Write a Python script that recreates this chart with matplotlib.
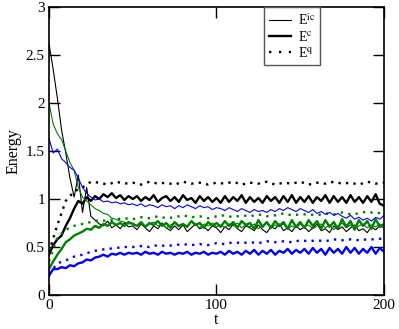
import numpy as np
import matplotlib
matplotlib.use('Agg')
import matplotlib.pyplot as plt

plt.rcParams['font.family'] = 'Liberation Serif'
plt.rcParams['mathtext.fontset'] = 'stix'

# time grids
t = np.arange(0, 200.1, 2.5)   # solid curves
tq = np.arange(0, 200.1, 5)    # dotted curves

# black set
bk_ic = [2.62, 2.35, 2.05, 1.72, 1.48, 1.22, 1.02, 1.25, 0.86, 1.12, 0.82, 0.78, 0.74, 0.72, 0.77, 0.70, 0.73, 0.69, 0.75, 0.71, 0.72,
         0.68, 0.74, 0.70, 0.66, 0.72, 0.69, 0.75, 0.70, 0.67, 0.72, 0.68, 0.73, 0.66, 0.70, 0.74, 0.69, 0.71, 0.67, 0.72, 0.70,
         0.65, 0.71, 0.68, 0.74, 0.69, 0.66, 0.72, 0.70, 0.67, 0.73, 0.68, 0.65, 0.71, 0.69, 0.74, 0.67, 0.70, 0.66, 0.72, 0.68,
         0.71, 0.66, 0.70, 0.74, 0.67, 0.69, 0.65, 0.72, 0.68, 0.71, 0.66, 0.70, 0.73, 0.67, 0.69, 0.65, 0.71, 0.68, 0.72, 0.70]
bk_c = [0.42, 0.52, 0.58, 0.62, 0.72, 0.80, 0.90, 0.98, 0.95, 1.02, 0.98, 1.03, 1.00, 1.05, 1.02, 1.06, 1.01, 1.04, 0.99, 1.03, 1.00,
        1.03, 0.98, 1.02, 0.99, 1.04, 0.97, 1.01, 1.03, 0.98, 1.02, 0.97, 1.04, 0.99, 1.01, 0.96, 1.03, 0.98, 1.02, 0.97, 1.01,
        0.96, 1.03, 0.97, 1.02, 0.98, 1.04, 0.96, 1.02, 0.97, 1.01, 0.96, 1.03, 0.98, 1.02, 0.96, 1.03, 0.97, 1.04, 0.96, 1.02,
        0.97, 1.03, 0.96, 1.02, 0.98, 1.04, 0.96, 1.03, 0.97, 1.02, 0.96, 1.04, 0.97, 1.02, 0.96, 1.03, 0.97, 1.05, 0.95, 0.93]
bk_q = [0.45, 0.73, 0.98, 1.08, 1.12, 1.18, 1.17, 1.15, 1.18, 1.16, 1.17,
        1.15, 1.18, 1.16, 1.17, 1.15, 1.18, 1.16, 1.17, 1.15, 1.17,
        1.16, 1.18, 1.15, 1.17, 1.16, 1.18, 1.15, 1.17, 1.16, 1.18,
        1.15, 1.17, 1.16, 1.18, 1.16, 1.17, 1.15, 1.18, 1.16, 1.17]

# green set
gr_ic = [2.00, 1.78, 1.68, 1.62, 1.50, 1.38, 1.30, 1.12, 1.02, 0.98, 0.94, 0.90, 0.88, 0.85, 0.84, 0.80, 0.79, 0.77, 0.76, 0.74, 0.75,
         0.72, 0.75, 0.71, 0.74, 0.76, 0.72, 0.74, 0.70, 0.73, 0.75, 0.71, 0.74, 0.72, 0.76, 0.73, 0.70, 0.74, 0.72, 0.75, 0.71,
         0.73, 0.70, 0.74, 0.72, 0.75, 0.70, 0.73, 0.71, 0.74, 0.69, 0.72, 0.75, 0.70, 0.73, 0.71, 0.74, 0.69, 0.72, 0.70, 0.74,
         0.71, 0.73, 0.69, 0.72, 0.74, 0.70, 0.73, 0.68, 0.72, 0.75, 0.70, 0.73, 0.69, 0.72, 0.74, 0.70, 0.73, 0.71, 0.74, 0.72]
gr_c = [0.27, 0.35, 0.42, 0.48, 0.55, 0.58, 0.62, 0.64, 0.66, 0.69, 0.68, 0.72, 0.70, 0.74, 0.72, 0.76, 0.73, 0.75, 0.72, 0.76, 0.74,
        0.72, 0.76, 0.71, 0.75, 0.73, 0.77, 0.72, 0.75, 0.70, 0.76, 0.72, 0.74, 0.71, 0.77, 0.73, 0.75, 0.70, 0.76, 0.72, 0.75,
        0.71, 0.77, 0.72, 0.76, 0.70, 0.77, 0.73, 0.75, 0.69, 0.78, 0.71, 0.76, 0.70, 0.77, 0.72, 0.76, 0.69, 0.78, 0.71, 0.76,
        0.70, 0.78, 0.72, 0.77, 0.69, 0.78, 0.71, 0.76, 0.69, 0.79, 0.71, 0.77, 0.68, 0.78, 0.72, 0.77, 0.69, 0.79, 0.71, 0.74]
gr_q = [0.35, 0.60, 0.68, 0.72, 0.74, 0.76, 0.78, 0.77, 0.79, 0.80, 0.79,
        0.81, 0.80, 0.82, 0.80, 0.81, 0.83, 0.81, 0.82, 0.80, 0.82,
        0.83, 0.81, 0.83, 0.82, 0.84, 0.82, 0.83, 0.85, 0.83, 0.84,
        0.84, 0.83, 0.85, 0.84, 0.86, 0.84, 0.85, 0.87, 0.85, 0.86]

# blue set
bl_ic = [1.63, 1.48, 1.52, 1.42, 1.38, 1.33, 1.30, 1.22, 1.12, 1.06, 1.02, 0.99, 1.00, 0.97, 0.98, 0.96, 0.97, 0.95, 0.96, 0.94, 0.95,
         0.93, 0.95, 0.92, 0.94, 0.93, 0.91, 0.94, 0.92, 0.93, 0.90, 0.93, 0.91, 0.94, 0.92, 0.90, 0.93, 0.91, 0.92, 0.89, 0.91,
         0.90, 0.88, 0.91, 0.89, 0.87, 0.90, 0.88, 0.86, 0.89, 0.87, 0.88, 0.86, 0.89, 0.87, 0.90, 0.88, 0.91, 0.89, 0.87, 0.90,
         0.88, 0.86, 0.89, 0.85, 0.87, 0.84, 0.86, 0.83, 0.85, 0.82, 0.80, 0.83, 0.79, 0.81, 0.78, 0.80, 0.77, 0.81, 0.79, 0.83]
bl_c = [0.20, 0.27, 0.27, 0.29, 0.28, 0.31, 0.30, 0.33, 0.34, 0.37, 0.36, 0.39, 0.40, 0.42, 0.40, 0.43, 0.42, 0.44, 0.42, 0.44, 0.43,
        0.44, 0.42, 0.45, 0.43, 0.44, 0.42, 0.45, 0.43, 0.44, 0.42, 0.44, 0.43, 0.45, 0.42, 0.44, 0.43, 0.45, 0.42, 0.44, 0.43,
        0.45, 0.42, 0.46, 0.43, 0.45, 0.42, 0.46, 0.43, 0.47, 0.42, 0.46, 0.43, 0.47, 0.42, 0.46, 0.44, 0.48, 0.43, 0.47, 0.44,
        0.48, 0.43, 0.49, 0.44, 0.48, 0.42, 0.49, 0.44, 0.48, 0.43, 0.50, 0.44, 0.49, 0.43, 0.48, 0.44, 0.50, 0.43, 0.49, 0.45]
bl_q = [0.22, 0.33, 0.36, 0.40, 0.42, 0.45, 0.47, 0.48, 0.49, 0.50, 0.50,
        0.51, 0.50, 0.52, 0.51, 0.52, 0.53, 0.52, 0.53, 0.52, 0.54,
        0.53, 0.55, 0.54, 0.55, 0.54, 0.56, 0.55, 0.56, 0.55, 0.57,
        0.56, 0.57, 0.56, 0.58, 0.57, 0.58, 0.57, 0.58, 0.58, 0.59]

dots = (0, (1, 2.2))
lw_thin, lw_thick, lw_dot = 0.8, 1.7, 1.7

fig = plt.figure(figsize=(3.99, 3.29), dpi=100)
ax = fig.add_axes([0.1228, 0.1033, 0.8396, 0.8754])

sets = [('black', bk_ic, bk_c, bk_q), ('#008000', gr_ic, gr_c, gr_q), ('#0000ff', bl_ic, bl_c, bl_q)]
for col, ic, c, q in sets:
    ax.plot(t, ic, color=col, lw=lw_thin)
    ax.plot(t, c, color=col, lw=lw_thick)
    ax.plot(tq, q, color=col, lw=lw_dot, ls=dots)

# legend handles in black
h1, = ax.plot([], [], color='black', lw=lw_thin, label=r'E$^{\rm ic}$')
h2, = ax.plot([], [], color='black', lw=lw_thick, label=r'E$^{\rm c}$')
h3, = ax.plot([], [], color='black', lw=lw_dot, ls=(0, (1, 3.2)), label=r'E$^{\rm q}$')
leg = ax.legend(handles=[h1, h2, h3], loc='upper left', bbox_to_anchor=(0.642, 1.0),
                borderaxespad=0, fontsize=10, fancybox=False, framealpha=1,
                handlelength=1.6, handletextpad=0.5, labelspacing=0.15, borderpad=0.35)
leg.get_frame().set_edgecolor('#555555')
leg.get_frame().set_linewidth(1.0)

ax.set_xlim(0, 200)
ax.set_ylim(0, 3)
ax.set_xticks([0, 100, 200])
ax.set_yticks([0, 0.5, 1, 1.5, 2, 2.5, 3])
ax.set_yticklabels(['0', '0.5', '1', '1.5', '2', '2.5', '3'])
ax.tick_params(direction='in', length=8, width=1, top=True, right=True, labelsize=11, pad=3)
for s in ax.spines.values():
    s.set_linewidth(1.2)
ax.set_xlabel('t', fontsize=11.5, labelpad=0)
ax.set_ylabel('Energy', fontsize=11.5, labelpad=3)

fig.savefig('out.png', dpi=100)
